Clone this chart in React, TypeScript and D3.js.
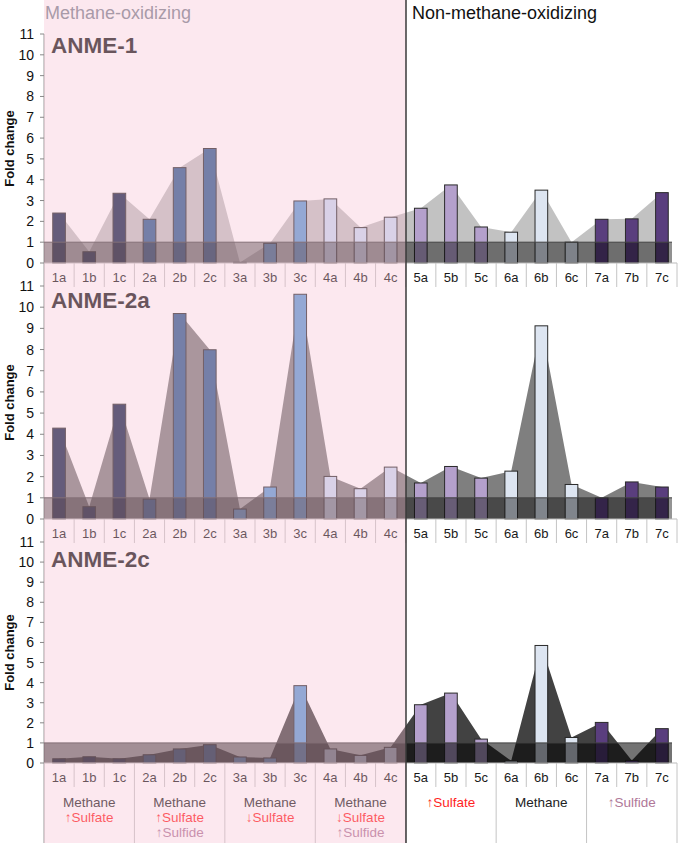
import React from "react";
import * as d3 from "d3";

// sample columns
const categories = [
  "1a", "1b", "1c", "2a", "2b", "2c", "3a", "3b", "3c", "4a", "4b", "4c",
  "5a", "5b", "5c", "6a", "6b", "6c", "7a", "7b", "7c",
];

// fold change per column
const anme1 = [2.4, 0.54, 3.35, 2.1, 4.58, 5.5, 0.03, 0.95, 2.98, 3.08, 1.7, 2.2, 2.63, 3.75, 1.73, 1.48, 3.5, 1.0, 2.1, 2.12, 3.38];
const anme2a = [4.29, 0.58, 5.42, 0.94, 9.7, 7.99, 0.47, 1.51, 10.61, 2.01, 1.43, 2.45, 1.7, 2.48, 1.93, 2.26, 9.12, 1.63, 1.0, 1.75, 1.51];
const anme2c = [0.21, 0.31, 0.21, 0.41, 0.7, 0.91, 0.3, 0.25, 3.85, 0.7, 0.38, 0.78, 2.9, 3.48, 1.19, 0.11, 5.85, 1.27, 2.02, 0.13, 1.71];

const panelNames = ["ANME-1", "ANME-2a", "ANME-2c"];
const yTickValues = [0, 1, 2, 3, 4, 5, 6, 7, 8, 9, 10, 11];

// condition text under each group of three columns
const groupLines: { text: string; kind: string }[][] = [
  [{ text: "Methane", kind: "m" }, { text: "↑Sulfate", kind: "s" }],
  [{ text: "Methane", kind: "m" }, { text: "↑Sulfate", kind: "s" }, { text: "↑Sulfide", kind: "h" }],
  [{ text: "Methane", kind: "m" }, { text: "↓Sulfate", kind: "s" }],
  [{ text: "Methane", kind: "m" }, { text: "↓Sulfate", kind: "s" }, { text: "↑Sulfide", kind: "h" }],
  [{ text: "↑Sulfate", kind: "s" }],
  [{ text: "Methane", kind: "m" }],
  [{ text: "↑Sulfide", kind: "h" }],
];

const W = 680;
const H = 843;
const left = 44;
const right = 677;
const split = 406;
const font = "'Liberation Sans', Arial, sans-serif";

const groupColors = ["#13254a", "#2c5c91", "#5d9bd5", "#c8dcf2", "#b4a0cc", "#dde5f1", "#5a3e7e"];
const lineColors: Record<string, string> = { m: "#222", s: "#ff1f1f", h: "#b07898" };

const panels = [
  { values: anme1, top: 34, bottom: 263, titleY: 53, area: 0.24, band: 0.43 },
  { values: anme2a, top: 286, bottom: 519, titleY: 308, area: 0.5, band: 0.42 },
  { values: anme2c, top: 542, bottom: 763, titleY: 567, area: 0.74, band: 0.55 },
];

const x = d3.scaleBand<string>().domain(categories).range([left, right]).padding(0);
const barW = x.step() * 0.42;
const cx = (c: string) => (x(c) as number) + x.bandwidth() / 2;

function Panel({ p, name, idx }: { p: (typeof panels)[number]; name: string; idx: number }) {
  const y = d3.scaleLinear().domain([0, 11]).range([p.bottom, p.top]);
  const data = categories.map((c, i) => ({ c, v: p.values[i], g: Math.floor(i / 3) }));
  const area = d3
    .area<{ c: string; v: number }>()
    .x((d) => cx(d.c))
    .y0(y(0))
    .y1((d) => y(d.v));
  const rowH = 24;
  return (
    <g>
      <path d={area(data) ?? ""} fill="#000" fillOpacity={p.area} />
      {data.map((d) => (
        <rect
          key={d.c}
          x={cx(d.c) - barW / 2}
          y={y(d.v)}
          width={barW}
          height={y(0) - y(d.v)}
          fill={groupColors[d.g]}
          stroke="#2a2a2a"
          strokeWidth={1}
        />
      ))}
      <rect x={left} y={y(1)} width={672 - left} height={y(0) - y(1)} fill="#000" fillOpacity={p.band} />
      <line x1={left} x2={672} y1={y(1)} y2={y(1)} stroke="#444" strokeWidth={1} />
      <line x1={left} x2={right} y1={y(0)} y2={y(0)} stroke="#bbb" strokeWidth={1} />
      {/* y axis */}
      {yTickValues.map((t) => (
        <g key={t}>
          <line x1={left - 4} x2={left} y1={y(t)} y2={y(t)} stroke="#888" />
          <text x={34} y={y(t)} dy="0.36em" textAnchor="end" fontSize={14} fill="#111" fontFamily={font}>
            {t}
          </text>
        </g>
      ))}
      <text
        transform={`translate(14,${(p.top + p.bottom) / 2}) rotate(-90)`}
        textAnchor="middle"
        fontSize={13}
        fontWeight="bold"
        fill="#111"
        fontFamily={font}
      >
        Fold change
      </text>
      <text x={51} y={p.titleY} fontSize={22.5} fontWeight="bold" fill="#1a1a1a" fontFamily={font}>
        {name}
      </text>
      {/* column label row */}
      {categories.map((c, i) =>
        i === 0 ? null : (
          <line
            key={"s" + c}
            x1={x(c) as number}
            x2={x(c) as number}
            y1={y(0)}
            y2={idx === 2 && i % 3 === 0 ? H : y(0) + rowH}
            stroke="#c4c4c4"
            strokeWidth={1}
          />
        )
      )}
      <line x1={right} x2={right} y1={y(0)} y2={idx === 2 ? H : y(0) + rowH} stroke="#c4c4c4" />
      {categories.map((c) => (
        <text key={"l" + c} x={cx(c)} y={y(0) + 19} textAnchor="middle" fontSize={13} fill="#1a1a1a" fontFamily={font}>
          {c}
        </text>
      ))}
    </g>
  );
}

export default function App() {
  const lastBottom = panels[2].bottom;
  return (
    <div style={{ position: "absolute", left: 0, top: 0 }}>
      <svg width={W} height={H} style={{ display: "block", background: "#fff" }}>
        <line x1={left} x2={left} y1={panels[0].top} y2={H} stroke="#999" strokeWidth={1} />
        {panels.map((p, i) => (
          <Panel key={panelNames[i]} p={p} name={panelNames[i]} idx={i} />
        ))}
        {groupLines.map((lines, g) => {
          const xc = ((x(categories[g * 3]) as number) + (x(categories[g * 3 + 2]) as number) + x.bandwidth()) / 2;
          return lines.map((ln, k) => (
            <text
              key={g + "-" + k}
              x={xc}
              y={lastBottom + 44 + k * 15}
              textAnchor="middle"
              fontSize={13.5}
              fill={lineColors[ln.kind]}
              fontFamily={font}
            >
              {ln.text}
            </text>
          ));
        })}
        <text x={45} y={19} fontSize={18} fill="#7c8690" fontFamily={font}>
          Methane-oxidizing
        </text>
        <text x={412} y={19} fontSize={18} fill="#111" fontFamily={font}>
          Non-methane-oxidizing
        </text>
        {/* pink veil over the methane-oxidizing half */}
        <rect x={left} y={0} width={split - left} height={H} fill="#f6bfd2" fillOpacity={0.36} />
        <line x1={split} x2={split} y1={0} y2={H} stroke="#3a3a3a" strokeWidth={1.5} />
      </svg>
    </div>
  );
}
